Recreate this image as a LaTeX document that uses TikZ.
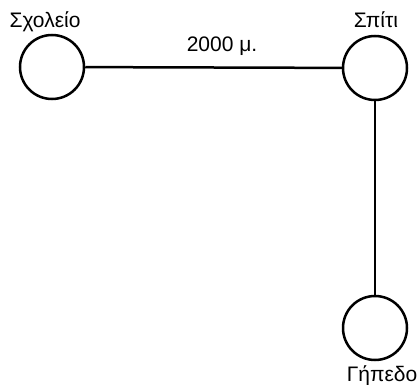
\documentclass[tikz,border=0pt]{standalone}
\usepackage{fontspec}
\setmainfont{Liberation Sans}
\begin{document}
\begin{tikzpicture}[x=1pt,y=-1pt,
  place/.style={circle,draw=black,line width=2.5pt,minimum size=64pt,inner sep=0pt},
  lbl/.style={font=\fontsize{21}{23}\selectfont,inner sep=0pt,anchor=base},
  road/.style={line width=2.5pt}]
\useasboundingbox (0,0) rectangle (418,385);
\node[place] (school) at (52,67) {};
\node[place] (home) at (375,68) {};
\node[place] (field) at (375,328) {};
\node[lbl] (tschool) at (45,28) {Σχολείο};
\node[lbl] (thome) at (376,28) {Σπίτι};
\node[lbl] (tfield) at (382,381) {Γήπεδο};
\node[lbl] (tdist) at (222,52) {2000 μ.};
\draw[road] (school) -- (home);
\draw[road] (home) -- (field);
\end{tikzpicture}
\end{document}
